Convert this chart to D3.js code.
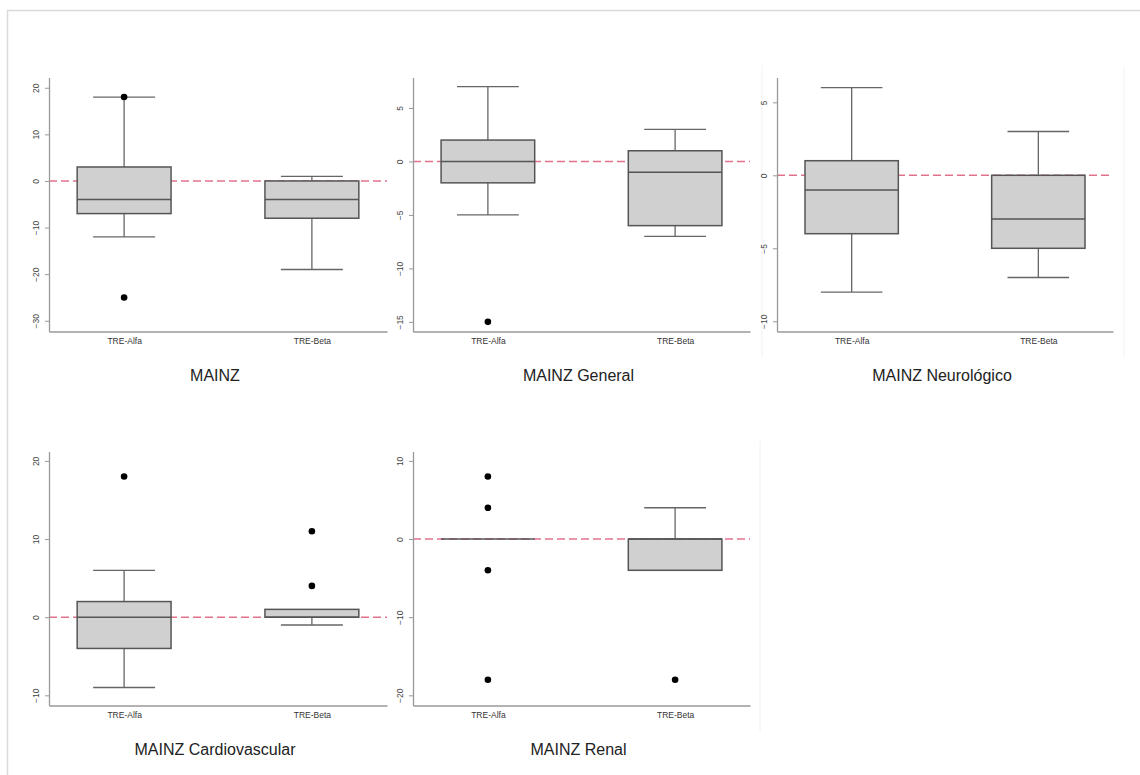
<!DOCTYPE html>
<html>
<head>
<meta charset="utf-8">
<script src="https://cdn.jsdelivr.net/npm/d3@7"></script>
<style>
  body { margin: 0; background: #fff; }
  svg { display: block; font-family: "Liberation Sans", Arial, sans-serif; }
</style>
</head>
<body>
<svg id="chart" width="1140" height="775"></svg>
<script>
// groups on the x axis of every panel
var groups = ["TRE-Alfa", "TRE-Beta"];
var titles = ["MAINZ", "MAINZ General", "MAINZ Neurológico", "MAINZ Cardiovascular", "MAINZ Renal"];

// y axis extent and ticks per panel
var yDomains = [[-32.3, 22.2], [-15.9, 7.85], [-10.7, 6.7], [-11.3, 21.2], [-21.3, 11.2]];
var yTicks = [[-30, -20, -10, 0, 10, 20], [-15, -10, -5, 0, 5], [-10, -5, 0, 5], [-10, 0, 10, 20], [-20, -10, 0, 10]];

// [low whisker, q1, median, q3, high whisker]
var alfaStats = [[-12, -7, -4, 3, 18], [-5, -2, 0, 2, 7], [-8, -4, -1, 1, 6], [-9, -4, 0, 2, 6], [0, 0, 0, 0, 0]];
var betaStats = [[-19, -8, -4, 0, 1], [-7, -6, -1, 1, 3], [-7, -5, -3, 0, 3], [-1, 0, 0, 1, 1], [-4, -4, 0, 0, 4]];
var alfaOutliers = [[18, -25], [-15], [], [18], [8, 4, -4, -18]];
var betaOutliers = [[], [], [], [11, 4], [-18]];

// panel frames: [x0, x1, y0(top), y1(bottom)]
var cols = [[49, 387], [413, 750], [777, 1113]];
var rows = [[77.5, 331.5], [451.5, 705.5]];

var svg = d3.select("#chart");

// outer frame
svg.append("rect")
  .attr("x", 7.5).attr("y", 10.5)
  .attr("width", 1200).attr("height", 800)
  .attr("fill", "none")
  .attr("stroke", "#dadada")
  .attr("stroke-width", 1.5);

// faint cell separators
[[762, 65, 357], [1124, 67, 357], [760, 441, 732]].forEach(function(s) {
  svg.append("line")
    .attr("x1", s[0]).attr("x2", s[0]).attr("y1", s[1]).attr("y2", s[2])
    .attr("stroke", "#f2f2f2").attr("stroke-width", 1);
});

titles.forEach(function(title, i) {
  var c = cols[i % 3], r = rows[Math.floor(i / 3)];

  var x = d3.scalePoint().domain(groups).range([c[0], c[1]]).padding(0.4);
  var y = d3.scaleLinear().domain(yDomains[i]).range([r[1], r[0]]);
  var step = x.step();
  var boxW = step * 0.5, capW = step * 0.33;

  var g = svg.append("g");

  // reference line at zero
  g.append("line")
    .attr("x1", c[0]).attr("x2", c[1])
    .attr("y1", y(0)).attr("y2", y(0))
    .attr("stroke", "#e2728b")
    .attr("stroke-width", 1.6)
    .attr("stroke-dasharray", "8,4");

  var boxes = [
    { name: groups[0], s: alfaStats[i], out: alfaOutliers[i] },
    { name: groups[1], s: betaStats[i], out: betaOutliers[i] }
  ];

  boxes.forEach(function(b) {
    var cx = x(b.name), s = b.s;
    // whiskers
    [[s[0], s[1]], [s[3], s[4]]].forEach(function(w) {
      if (w[0] == w[1]) return;
      g.append("line")
        .attr("x1", cx).attr("x2", cx)
        .attr("y1", y(w[0])).attr("y2", y(w[1]))
        .attr("stroke", "#666").attr("stroke-width", 1.3);
    });
    [s[0], s[4]].forEach(function(v, k) {
      if (v == s[k == 0 ? 1 : 3]) return;
      g.append("line")
        .attr("x1", cx - capW / 2).attr("x2", cx + capW / 2)
        .attr("y1", y(v)).attr("y2", y(v))
        .attr("stroke", "#666").attr("stroke-width", 1.3);
    });
    // box
    if (s[3] > s[1]) {
      g.append("rect")
        .attr("x", cx - boxW / 2).attr("width", boxW)
        .attr("y", y(s[3])).attr("height", y(s[1]) - y(s[3]))
        .attr("fill", "#d0d0d0")
        .attr("stroke", "#555").attr("stroke-width", 1.5);
    }
    // median
    g.append("line")
      .attr("x1", cx - boxW / 2).attr("x2", cx + boxW / 2)
      .attr("y1", y(s[2])).attr("y2", y(s[2]))
      .attr("stroke", "#555").attr("stroke-width", 1.5);
    // outliers
    g.selectAll(null)
      .data(b.out)
      .enter().append("circle")
      .attr("cx", cx)
      .attr("cy", function(d) { return y(d); })
      .attr("r", 3.3)
      .attr("fill", "#000");
  });

  // y axis
  var ya = g.append("g")
    .attr("transform", "translate(" + c[0] + ",0)")
    .call(d3.axisLeft(y).tickValues(yTicks[i]).tickSize(4).tickSizeOuter(0).tickPadding(3));
  ya.select(".domain").attr("stroke", "#999").attr("stroke-width", 1.3);
  ya.selectAll(".tick line").attr("stroke", "#999");
  ya.selectAll(".tick text")
    .attr("font-size", "8.5px")
    .attr("fill", "#444")
    .attr("transform", "rotate(-90)")
    .attr("x", 0).attr("y", -10)
    .attr("dy", 0)
    .style("text-anchor", "middle");

  // x axis
  var xa = g.append("g")
    .attr("transform", "translate(0," + r[1] + ")")
    .call(d3.axisBottom(x).tickSize(0).tickSizeOuter(0).tickPadding(6));
  xa.select(".domain").attr("stroke", "#999").attr("stroke-width", 1.3);
  xa.selectAll(".tick text")
    .attr("font-size", "8.5px")
    .attr("fill", "#333");

  // panel title
  g.append("text")
    .attr("x", (c[0] + c[1]) / 2 - 3)
    .attr("y", r[1] + 49)
    .attr("text-anchor", "middle")
    .attr("font-size", "16px")
    .attr("fill", "#222")
    .text(title);
});
</script>
</body>
</html>
